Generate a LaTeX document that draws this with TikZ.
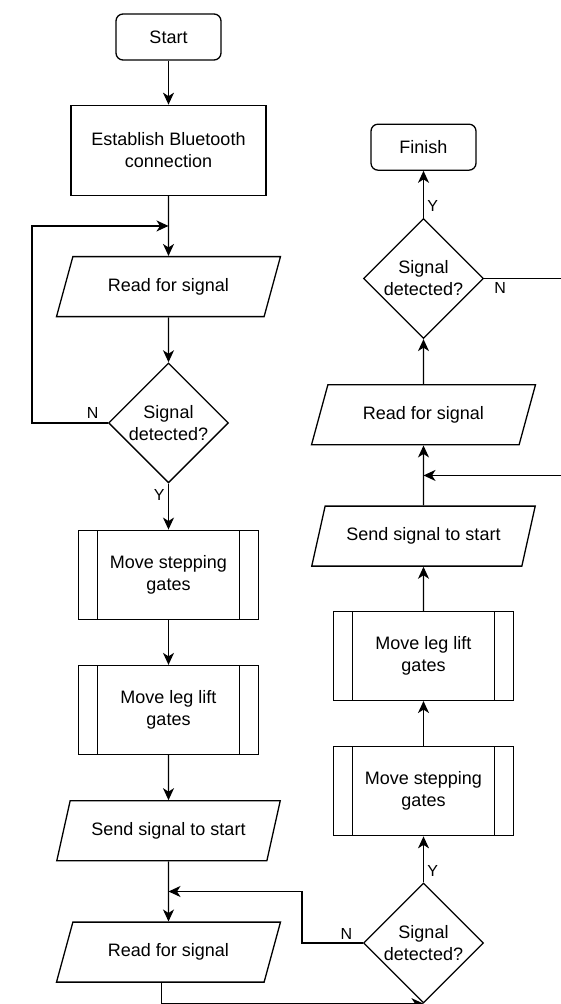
\documentclass[tikz,border=0pt]{standalone}
\usepackage{fontspec}
\setmainfont{Liberation Sans}
\usepackage{tikz}
\usetikzlibrary{shapes.geometric,arrows.meta,positioning}

\begin{document}
\begin{tikzpicture}[x=1pt,y=-1pt,
		font=\fontsize{18}{22}\selectfont, line width=1.3pt,
		term/.style={rectangle, draw, rounded corners=7pt, minimum width=105pt, minimum height=46pt},
		proc/.style={rectangle, draw, minimum width=195pt, minimum height=90pt, align=center},
		subproc/.style={rectangle, draw, minimum width=180pt, minimum height=89pt, align=center,
			path picture={\draw ([xshift=19pt]path picture bounding box.north west) -- ([xshift=19pt]path picture bounding box.south west)
				([xshift=-19pt]path picture bounding box.north east) -- ([xshift=-19pt]path picture bounding box.south east);}},
		io/.style={trapezium, trapezium left angle=65, trapezium right angle=115, trapezium stretches=true, draw, minimum width=224pt, minimum height=60pt},
		decide/.style={diamond, draw, aspect=1, inner sep=0pt, minimum width=120pt, minimum height=120pt, align=center},
		flow/.style={-{Stealth[length=12pt,width=11pt,inset=3.5pt]}},
		lbl/.style={font=\fontsize{16}{18}\selectfont}]
	\useasboundingbox (0,0) rectangle (560,1004);

	% left column, top to bottom
	\node[term] (start) at (168.5,37) {Start};
	\node[proc, below=44pt of start] (bt) {Establish Bluetooth\\connection};
	\node[io, below=60pt of bt] (readA) {Read for signal};
	\node[decide, below=45pt of readA] (detA) {Signal\\detected?};
	\node[subproc, below=46pt of detA] (stepA) {Move stepping\\gates};
	\node[subproc, below=45pt of stepA] (legA) {Move leg lift\\gates};
	\node[io, below=45pt of legA] (sendA) {Send signal to start};
	\node[io, below=60pt of sendA] (readB) {Read for signal};
	\coordinate[below=30pt of bt] (jA);
	\coordinate[below=30pt of sendA] (jB);

	% right column, bottom to top
	\node[decide] (detB) at (423.5,943) {Signal\\detected?};
	\node[subproc, above=46pt of detB] (stepB) {Move stepping\\gates};
	\node[subproc, above=45pt of stepB] (legB) {Move leg lift\\gates};
	\node[io, above=44pt of legB] (sendB) {Send signal to start};
	\node[io, above=60pt of sendB] (readC) {Read for signal};
	\node[decide, above=45pt of readC] (detC) {Signal\\detected?};
	\node[term, above=47pt of detC] (finish) {Finish};
	\coordinate[above=30pt of sendB] (jC);

	\draw[flow] (start) -- (bt);
	\draw[flow] (bt) -- (readA);
	\draw[flow] (readA) -- (detA);
	\draw[flow] (detA.west) -- node[lbl, above, pos=0.2] {N} ++(-76,0) |- (jA);
	\draw[flow] (detA) -- node[lbl, left, near start] {Y} (stepA);
	\draw[flow] (stepA) -- (legA);
	\draw[flow] (legA) -- (sendA);
	\draw[flow] (sendA) -- (readB);
	\draw[flow] ([xshift=-7pt]readB.south) |- (detB.south);

	\draw[flow] (detB.west) -- node[lbl, above, pos=0.27] {N} ++(-61,0) |- (jB);
	\draw[flow] (detB) -- node[lbl, right, near start] {Y} (stepB);
	\draw[flow] (stepB) -- (legB);
	\draw[flow] (legB) -- (sendB);
	\draw[flow] (sendB) -- (readC);
	\draw[flow] (readC) -- (detC);
	\draw[flow] (detC) -- node[lbl, right, near start] {Y} (finish);
	\draw[flow] (detC.east) -- node[lbl, below, pos=0.2] {N} ++(80,0) |- (jC);
\end{tikzpicture}
\end{document}
